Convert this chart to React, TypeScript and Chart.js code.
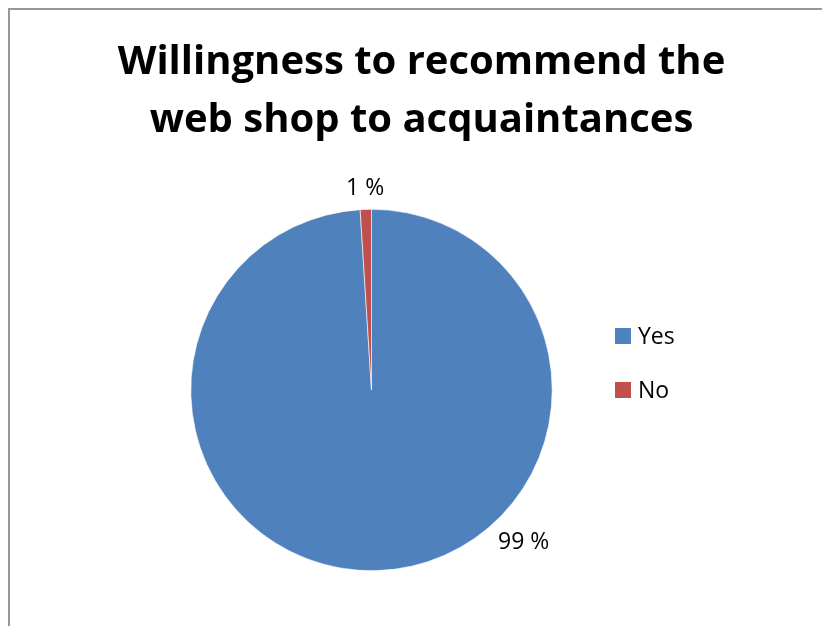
import React, { useEffect, useRef } from 'react';
import { Chart, registerables } from 'chart.js';

Chart.register(...registerables);

const TITLE_LINES = ['Willingness to recommend the', 'web shop to acquaintances'];
const CATEGORIES = ['Yes', 'No'];
const VALUES = [99, 1];
const COLORS = ['#4f81bd', '#c0504d'];
const VALUE_LABELS = VALUES.map((v) => `${v} %`);

const W = 822;
const H = 626;
const FONT = '"Open Sans"';

const decorPlugin = {
  id: 'decor',
  afterDraw(chart: any) {
    const ctx = chart.ctx as CanvasRenderingContext2D;
    const o = chart.options.plugins.decor;
    ctx.save();
    // frame (left and top edges visible)
    ctx.fillStyle = '#979797';
    ctx.fillRect(8, 8, 2, chart.height);
    ctx.fillRect(8, 8, chart.width, 2);

    // title
    ctx.fillStyle = '#000000';
    ctx.font = `bold ${o.titleFont}px ${FONT}`;
    ctx.textAlign = 'center';
    ctx.textBaseline = 'alphabetic';
    TITLE_LINES.forEach((t, i) => ctx.fillText(t, o.titleX, o.titleY + i * o.titleLineHeight));

    // legend
    const data = chart.data;
    ctx.font = `${o.legendFont}px ${FONT}`;
    ctx.textAlign = 'left';
    ctx.textBaseline = 'alphabetic';
    data.labels.forEach((lab: string, i: number) => {
      const y = o.legendY + i * o.legendGap;
      ctx.fillStyle = data.datasets[0].backgroundColor[i];
      ctx.fillRect(o.legendX, y - o.legendBox, o.legendBox, o.legendBox);
      ctx.fillStyle = '#000000';
      ctx.fillText(lab, o.legendX + o.legendBox + o.legendTextGap, y);
    });

    // value labels
    const meta = chart.getDatasetMeta(0);
    ctx.font = `${o.labelFont}px ${FONT}`;
    ctx.textAlign = 'center';
    ctx.textBaseline = 'middle';
    ctx.fillStyle = '#000000';
    meta.data.forEach((arc: any, i: number) => {
      const p = arc.getProps(['x', 'y', 'startAngle', 'endAngle', 'outerRadius'], true);
      const a = o.labelAngles[i] != null
        ? -Math.PI / 2 + (o.labelAngles[i] * Math.PI) / 180
        : (p.startAngle + p.endAngle) / 2;
      const d = p.outerRadius + o.labelOffsets[i];
      ctx.fillText(VALUE_LABELS[i], p.x + Math.cos(a) * d, p.y + Math.sin(a) * d);
    });
    ctx.restore();
  },
};

export default function App() {
  const ref = useRef<HTMLCanvasElement | null>(null);

  useEffect(() => {
    if (!ref.current) return;
    const chart = new Chart(ref.current, {
      type: 'pie',
      data: {
        labels: CATEGORIES,
        datasets: [
          {
            data: VALUES,
            backgroundColor: COLORS,
            borderColor: '#ffffff',
            borderWidth: 0.6,
          },
        ],
      },
      options: {
        responsive: false,
        animation: false,
        layout: { padding: { left: 190.5, right: 269.5, top: 209, bottom: 55 } },
        plugins: {
          legend: { display: false },
          title: { display: false },
          tooltip: { enabled: false },
          decor: {
            titleX: 421.5,
            titleY: 74,
            titleLineHeight: 58,
            titleFont: 40,
            legendX: 615,
            legendY: 344,
            legendGap: 54,
            legendBox: 16,
            legendTextGap: 7,
            legendFont: 23,
            labelFont: 23,
            labelAngles: [135, null],
            labelOffsets: [34.5, 20.5],
          },
        } as any,
      },
      plugins: [decorPlugin],
    });
    return () => chart.destroy();
  }, []);

  return (
    <div style={{ position: 'fixed', left: 0, top: 0, width: W, height: H, background: '#ffffff', overflow: 'hidden' }}>
      <canvas ref={ref} width={W} height={H} style={{ display: 'block' }} />
    </div>
  );
}
